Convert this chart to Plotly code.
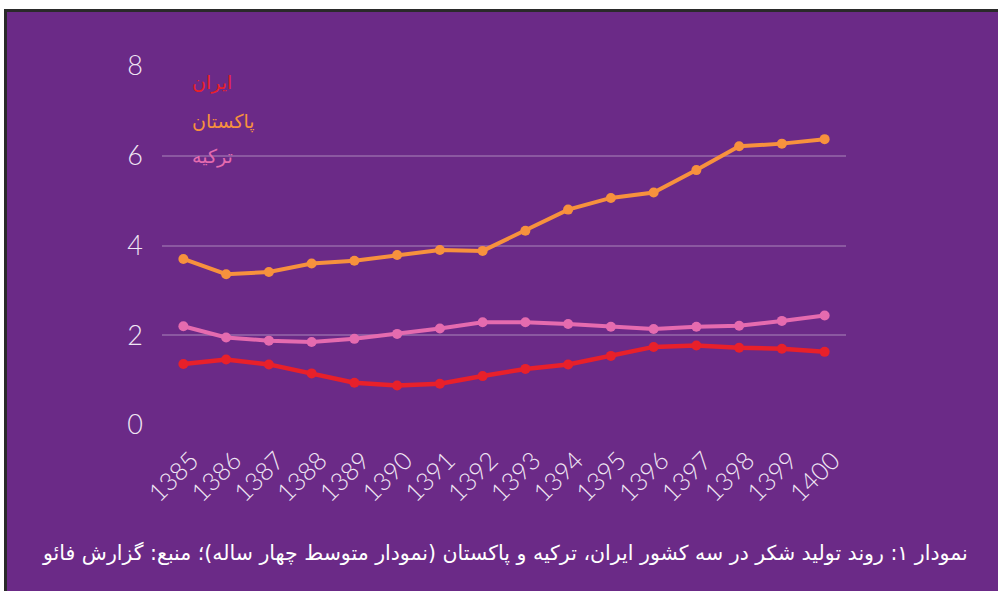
import plotly.graph_objects as go

years = [str(y) for y in range(1385, 1401)]
iran = [1.36, 1.46, 1.35, 1.15, 0.94, 0.88, 0.92, 1.09, 1.25, 1.35, 1.54, 1.74, 1.77, 1.72, 1.70, 1.63]
pakistan = [3.70, 3.36, 3.41, 3.60, 3.66, 3.79, 3.90, 3.88, 4.33, 4.80, 5.06, 5.18, 5.68, 6.21, 6.27, 6.37]
turkey = [2.20, 1.95, 1.88, 1.85, 1.92, 2.03, 2.15, 2.29, 2.29, 2.25, 2.19, 2.14, 2.19, 2.21, 2.32, 2.44]
names = ["ایران", "پاکستان", "ترکیه"]
colors = ["#E8202A", "#F7913D", "#E56BAF"]
caption = "نمودار ۱: روند تولید شکر در سه کشور ایران، ترکیه و پاکستان (نمودار متوسط چهار ساله)؛ منبع: گزارش فائو"

W, H = 998, 591
L, R, T, B = 162, 152, 66, 166
PW, PH = W - L - R, H - T - B

def px(x):
    return (x - L) / PW

def py(y):
    return (H - B - y) / PH

PURPLE = "#6B2A87"

fig = go.Figure()
for vals, name, col, lw in [(turkey, names[2], colors[2], 4), (pakistan, names[1], colors[1], 4), (iran, names[0], colors[0], 4.5)]:
    fig.add_trace(go.Scatter(
        x=list(range(len(years))), y=vals, name=name, mode="lines+markers",
        line=dict(color=col, width=lw), marker=dict(color=col, size=10),
        cliponaxis=False, showlegend=False,
    ))

fig.update_layout(
    width=W, height=H,
    margin=dict(l=L, r=R, t=T, b=B),
    paper_bgcolor=PURPLE, plot_bgcolor="rgba(0,0,0,0)",
    font=dict(family="Lato, DejaVu Sans", color="white"),
    xaxis=dict(
        range=[-0.5, len(years) - 0.5], tickmode="array",
        tickvals=list(range(len(years))), ticktext=years,
        tickangle=-45, showgrid=False, zeroline=False, showline=False,
        tickfont=dict(size=25, color="#F0E6F4", family="Lato", weight=300), ticks="",
        ticklabelstandoff=15, ticklabelshift=8,
    ),
    yaxis=dict(
        range=[0, 8], tickvals=[0, 2, 4, 6, 8], showline=False, zeroline=False,
        gridcolor="rgba(255,255,255,0.22)", gridwidth=2,
        tickfont=dict(size=27, color="#F0E6F4", family="Lato", weight=300), ticklabelstandoff=18,
    ),
)

# legend as colored text labels
for name, col, ypix in zip(names, colors, [83, 121, 156]):
    fig.add_annotation(
        x=px(190), y=py(ypix), xref="paper", yref="paper", text=name,
        showarrow=False, xanchor="left", yanchor="middle",
        font=dict(size=19, color=col, family="DejaVu Sans"),
    )

fig.add_annotation(
    x=px(505), y=py(553), xref="paper", yref="paper", text=caption,
    showarrow=False, xanchor="center", yanchor="middle",
    font=dict(size=20.5, color="white", family="DejaVu Sans"),
)

# frame: white strip top/left and dark border line
shapes = [
    dict(type="rect", xref="paper", yref="paper", x0=px(0), x1=px(W), y0=py(9), y1=py(0),
         fillcolor="white", line=dict(width=0), layer="below"),
    dict(type="rect", xref="paper", yref="paper", x0=px(0), x1=px(4), y0=py(H), y1=py(0),
         fillcolor="white", line=dict(width=0), layer="below"),
    dict(type="rect", xref="paper", yref="paper", x0=px(4), x1=px(W), y0=py(12), y1=py(9),
         fillcolor="#2A2A2A", line=dict(width=0), layer="below"),
    dict(type="rect", xref="paper", yref="paper", x0=px(4), x1=px(7), y0=py(H), y1=py(9),
         fillcolor="#2A2A2A", line=dict(width=0), layer="below"),
]
fig.update_layout(shapes=shapes)

fig.write_html(
    "out.html",
    config={"displayModeBar": False},
    post_script="document.body.style.margin='0';document.body.style.overflow='hidden';",
)
